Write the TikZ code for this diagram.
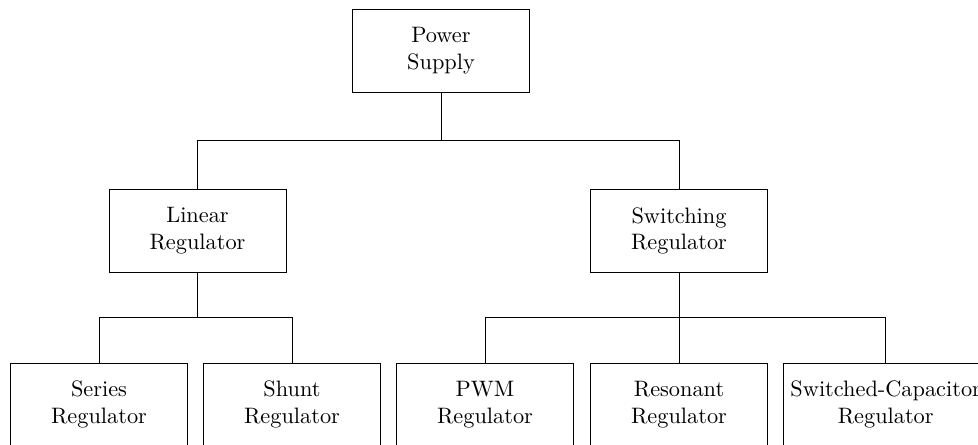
\documentclass[tikz,border=0pt]{standalone}
\usetikzlibrary{calc}
\begin{document}
\begin{tikzpicture}[x=0.448pt,y=-0.448pt,
  box/.style={draw, align=center, minimum width=79.3pt, minimum height=37.2pt, inner sep=3.33pt, font=\normalsize},
  link/.style={draw, line width=0.4pt}]
\useasboundingbox (0,0) rectangle (978,445);
\node[box] (ps) at (441,50.5) {Power\\Supply};
\node[box] (lin) at (197.5,231) {Linear\\Regulator};
\node[box] (sw) at (679,231) {Switching\\Regulator};
\node[box] (series) at (99,404.5) {Series\\Regulator};
\node[box] (shunt) at (292,404.5) {Shunt\\Regulator};
\node[box] (pwm) at (485,404.5) {PWM\\Regulator};
\node[box] (res) at (679,404.5) {Resonant\\Regulator};
\node[box] (sc) at (885.7,404.5) {Switched-Capacitor\\Regulator};
\coordinate (m1) at ($(ps.south)!0.5!(ps.south|-lin.north)$);
\coordinate (m2) at ($(lin.south)!0.5!(lin.south|-series.north)$);
\coordinate (m3) at ($(sw.south)!0.5!(sw.south|-res.north)$);
\draw[link] (ps.south) -- (m1) -| (lin.north);
\draw[link] (m1) -| (sw.north);
\draw[link] (lin.south) -- (m2) -| (series.north);
\draw[link] (m2) -| (shunt.north);
\draw[link] (sw.south) -- (res.north);
\draw[link] (m3) -| (pwm.north);
\draw[link] (m3) -| (sc.north);
\end{tikzpicture}
\end{document}
